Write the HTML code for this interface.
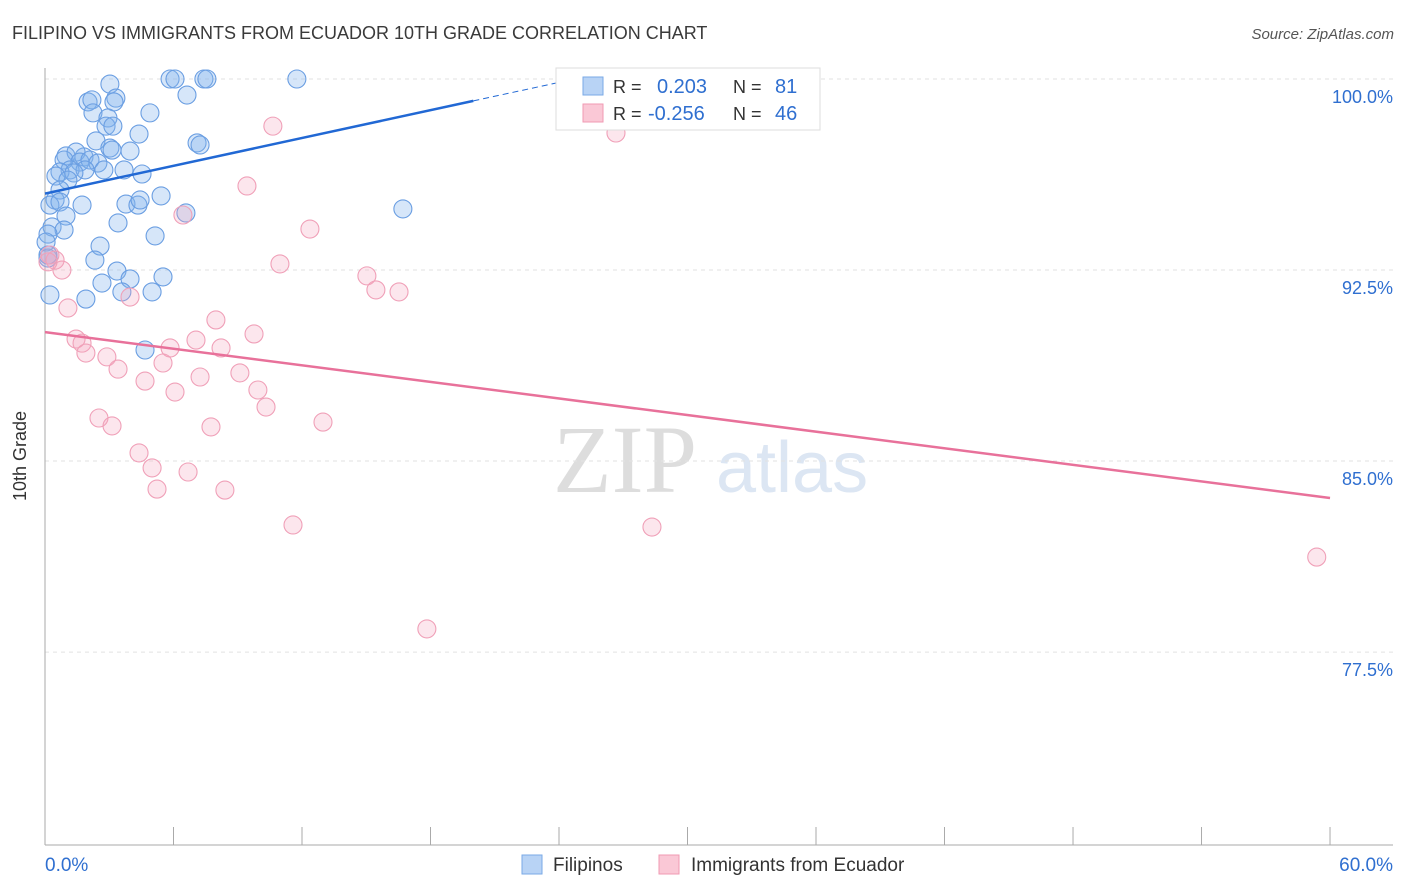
<!DOCTYPE html>
<html><head><meta charset="utf-8"><style>
body{margin:0;background:#fff;font-family:"Liberation Sans",sans-serif}
svg{display:block}
</style></head><body>
<svg width="1406" height="892" viewBox="0 0 1406 892">
<text x="12" y="39" font-size="18" fill="#3a3a3a">FILIPINO VS IMMIGRANTS FROM ECUADOR 10TH GRADE CORRELATION CHART</text>
<text x="1394" y="39" font-size="15" fill="#555" font-style="italic" text-anchor="end">Source: ZipAtlas.com</text>
<g>
<text x="553" y="492" font-family="Liberation Serif,serif" font-size="96" fill="#ddd">ZIP</text>
<text x="716" y="492" font-size="72" fill="#dce6f3">atlas</text>
</g>
<g id="grid"></g>
<g id="axes"></g>
<g id="pts"></g>
<g id="trend"></g>
<text x="26" y="456" font-size="18" fill="#333" text-anchor="middle" transform="rotate(-90 26 456)">10th Grade</text>
<g>
<rect x="556" y="68" width="264" height="62" fill="#fff" stroke="#ddd"/>
<rect x="583" y="77" width="20" height="18" fill="#b8d3f5" stroke="#7aaae6"/>
<text x="613" y="93" font-size="18" fill="#333">R =</text><text x="657" y="93" font-size="20" fill="#2f6fd0">0.203</text>
<text x="733" y="93" font-size="18" fill="#333">N =</text><text x="775" y="93" font-size="20" fill="#2f6fd0">81</text>
<rect x="583" y="104" width="20" height="18" fill="#fac8d6" stroke="#f09ab3"/>
<text x="613" y="120" font-size="18" fill="#333">R =</text><text x="648" y="120" font-size="20" fill="#2f6fd0">-0.256</text>
<text x="733" y="120" font-size="18" fill="#333">N =</text><text x="775" y="120" font-size="20" fill="#2f6fd0">46</text>
</g>
<g>
<rect x="522" y="855" width="20" height="19" fill="#b8d3f5" stroke="#7aaae6"/>
<text x="553" y="871" font-size="19" fill="#333">Filipinos</text>
<rect x="659" y="855" width="20" height="19" fill="#fac8d6" stroke="#f09ab3"/>
<text x="691" y="871" font-size="19" fill="#333">Immigrants from Ecuador</text>
</g>
</svg>
<script>
const yTicks=[100,92.5,85,77.5];
const yTickLabels=["100.0%","92.5%","85.0%","77.5%"];
const xEndLabels=["0.0%","60.0%"];
const blueX=[3.03,5.84,6.07,7.42,7.56,11.76,6.63,2.01,2.19,3.31,3.22,4.90,2.24,2.94,2.85,3.17,4.39,2.38,3.03,3.13,3.97,7.10,7.24,0.98,1.82,1.45,0.89,1.63,2.10,2.47,2.75,1.17,0.70,1.87,1.35,0.51,3.69,4.53,1.07,0.70,0.47,0.23,0.70,1.73,3.78,4.34,4.44,5.42,6.58,16.71,0.98,3.41,0.33,0.89,5.14,0.14,0.05,2.57,0.14,2.33,3.36,3.97,5.51,2.66,3.59,5.00,0.23,1.91,4.67,0.14];
const blueY=[99.80,100,100,100,100,100,99.37,99.10,99.18,99.25,99.10,98.67,98.67,98.47,98.15,98.15,97.84,97.57,97.29,97.21,97.17,97.49,97.41,96.98,96.94,97.13,96.82,96.74,96.82,96.70,96.43,96.43,96.35,96.43,96.31,96.19,96.43,96.27,96.03,95.64,95.25,95.05,95.17,95.05,95.09,95.05,95.25,95.41,94.74,94.90,94.62,94.35,94.19,94.07,93.84,93.91,93.60,93.44,92.97,92.89,92.46,92.15,92.23,91.99,91.64,91.64,91.52,91.36,89.36,93.09];
const pinkX=[26.66,10.64,9.43,6.44,12.37,0.23,0.47,0.79,10.97,15.03,15.45,16.53,1.07,7.98,9.76,1.45,1.73,1.91,7.05,8.22,5.84,2.89,3.41,5.51,4.67,7.24,9.10,6.07,9.94,10.32,2.52,3.13,12.98,7.75,4.39,5.00,6.68,5.23,8.40,11.58,28.34,59.38,17.83,3.97,0.14];
const pinkY=[97.88,98.15,95.80,94.66,94.11,93.09,92.89,92.50,92.74,92.27,91.72,91.64,91.01,90.54,89.99,89.79,89.63,89.24,89.75,89.44,89.44,89.09,88.61,88.85,88.14,88.30,88.46,87.71,87.79,87.12,86.69,86.38,86.53,86.34,85.32,84.73,84.57,83.90,83.86,82.49,82.41,81.23,78.41,91.44,92.82];
const blueTrend=[95.5,99.14]; // at x=0 and x=20
const pinkTrend=[90.06,83.55]; // at x=0 and x=60
const NS="http://www.w3.org/2000/svg";
const X=v=>45+v*21.417, Y=v=>79+(100-v)*25.47;
function mk(t,a,p){const e=document.createElementNS(NS,t);for(const k in a)e.setAttribute(k,a[k]);document.getElementById(p).appendChild(e);return e;}
yTicks.forEach((t,i)=>{
 const l=mk('line',{x1:45,x2:1393,y1:Y(t),y2:Y(t),stroke:'#e2e2e2','stroke-dasharray':'4,4'},'grid');
 
 
 const tx=mk('text',{x:1393,y:Y(t)+24,'font-size':18,fill:'#2f6fd0','text-anchor':'end'},'grid');
 tx.textContent=yTickLabels[i];
 
 
});
mk('line',{x1:45,x2:45,y1:68,y2:845,stroke:'#aaa'},'axes');
mk('line',{x1:45,x2:1393,y1:845,y2:845,stroke:'#aaa'},'axes');
for(let i=0;i<=10;i++){const t=mk('line',{x1:X(i*6),x2:X(i*6),y1:827,y2:845,stroke:'#aaa'},'axes');
 
 }
[[0,'start',45],[60,'end',1393]].forEach((d,i)=>{const t=mk('text',{x:d[2],y:871,'font-size':19,fill:'#2f6fd0','text-anchor':d[1]},'axes');t.textContent=xEndLabels[i];
 
 });
blueX.forEach((x,i)=>{const c=mk('circle',{cx:X(x),cy:Y(blueY[i]),r:9,fill:'rgba(130,178,238,0.33)',stroke:'#6a9ee2','stroke-width':1.1},'pts');
 
 });
pinkX.forEach((x,i)=>{const c=mk('circle',{cx:X(x),cy:Y(pinkY[i]),r:9,fill:'rgba(245,165,190,0.28)',stroke:'#f0a0b8','stroke-width':1.1},'pts');
 
 });
const bs=(blueTrend[1]-blueTrend[0])/20;
let l=mk('line',{x1:X(0),y1:Y(blueTrend[0]),x2:X(20),y2:Y(blueTrend[1]),stroke:'#2168d4','stroke-width':2.5},'trend');


l=mk('line',{x1:X(20),y1:Y(blueTrend[1]),x2:X(24),y2:Y(blueTrend[0]+bs*24),stroke:'#2168d4','stroke-width':1,'stroke-dasharray':'6,4'},'trend');


l=mk('line',{x1:X(0),y1:Y(pinkTrend[0]),x2:X(60),y2:Y(pinkTrend[1]),stroke:'#e8719a','stroke-width':2.5},'trend');


</script>
</body></html>
